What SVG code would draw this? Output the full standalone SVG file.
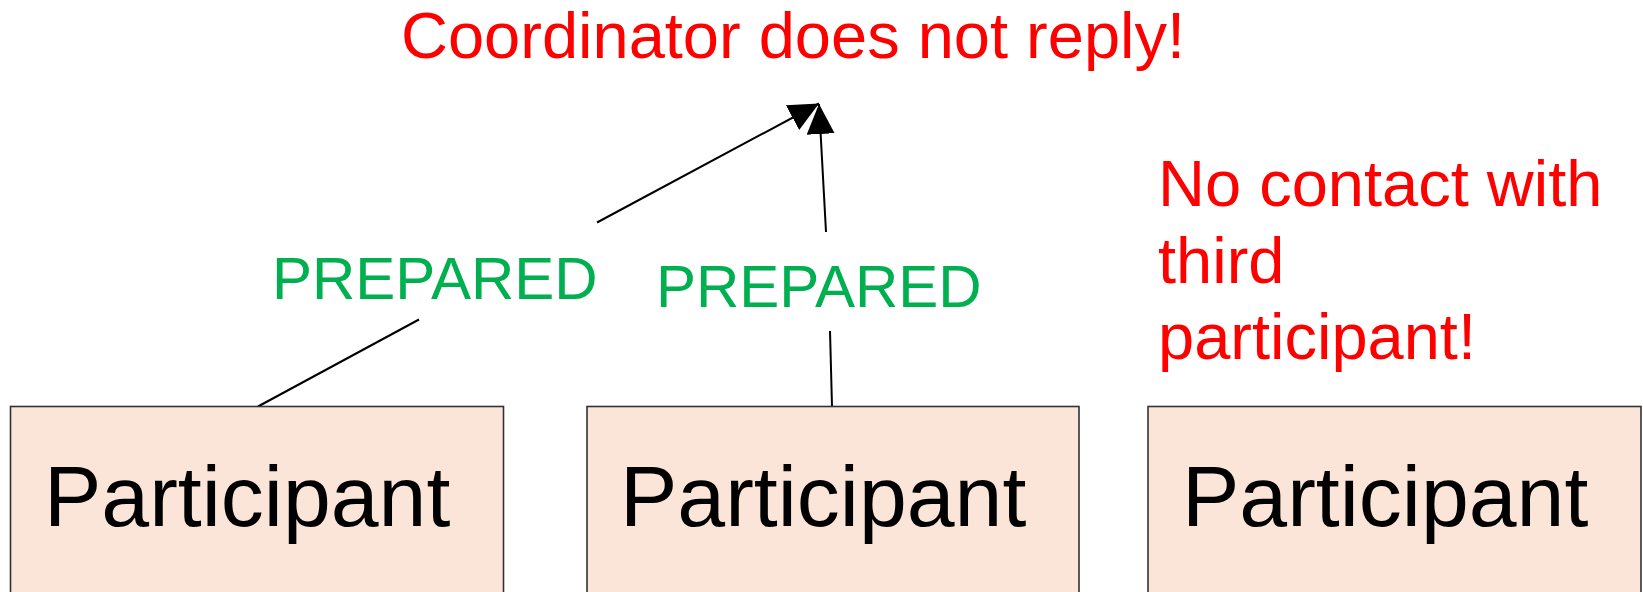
<svg xmlns="http://www.w3.org/2000/svg" width="1643" height="592" viewBox="0 0 1643 592">
<style>
.box{fill:#fae5d8;stroke:#333;stroke-width:1.6}
.ptxt{font-family:"Liberation Sans",Arial,sans-serif;font-size:86px;fill:#000}
.red{font-family:"Liberation Sans",Arial,sans-serif;font-size:65px;fill:#ff0000}
.green{font-family:"Liberation Sans",Arial,sans-serif;font-size:60px;fill:#00b050}
.conn{fill:none;stroke:#000;stroke-width:2}
</style>
<defs>
<marker id="arrow" markerUnits="userSpaceOnUse" markerWidth="32" markerHeight="30" refX="30" refY="14" orient="auto" viewBox="0 0 32 30">
<path d="M0,0 L30,14 L0,28 z" fill="#000"/>
</marker>
</defs>
<rect width="1643" height="592" fill="#fff"/>
<g id="connectors">
<path class="conn" d="M258,406.5 L419,319.5 M597,222.5 L819,103.5" marker-end="url(#arrow)"/>
<path class="conn" d="M832,406.5 L830,331 M826,232 L819,104" marker-end="url(#arrow)"/>
</g>
<g id="participant1">
<rect class="box" x="10.5" y="406.5" width="493" height="200"/>
<text class="ptxt" x="44" y="526">Participant</text>
</g>
<g id="participant2">
<rect class="box" x="587" y="406.5" width="492" height="200"/>
<text class="ptxt" x="620" y="526">Participant</text>
</g>
<g id="participant3">
<rect class="box" x="1148" y="406.5" width="493" height="200"/>
<text class="ptxt" x="1182" y="526">Participant</text>
</g>
<g id="labels">
<text class="red" x="401" y="58">Coordinator does not reply!</text>
<text class="green" x="272" y="299">PREPARED</text>
<text class="green" x="656" y="307">PREPARED</text>
<text class="red" x="1158" y="206">No contact with</text>
<text class="red" x="1158" y="283">third</text>
<text class="red" x="1158" y="359">participant!</text>
</g>
</svg>
